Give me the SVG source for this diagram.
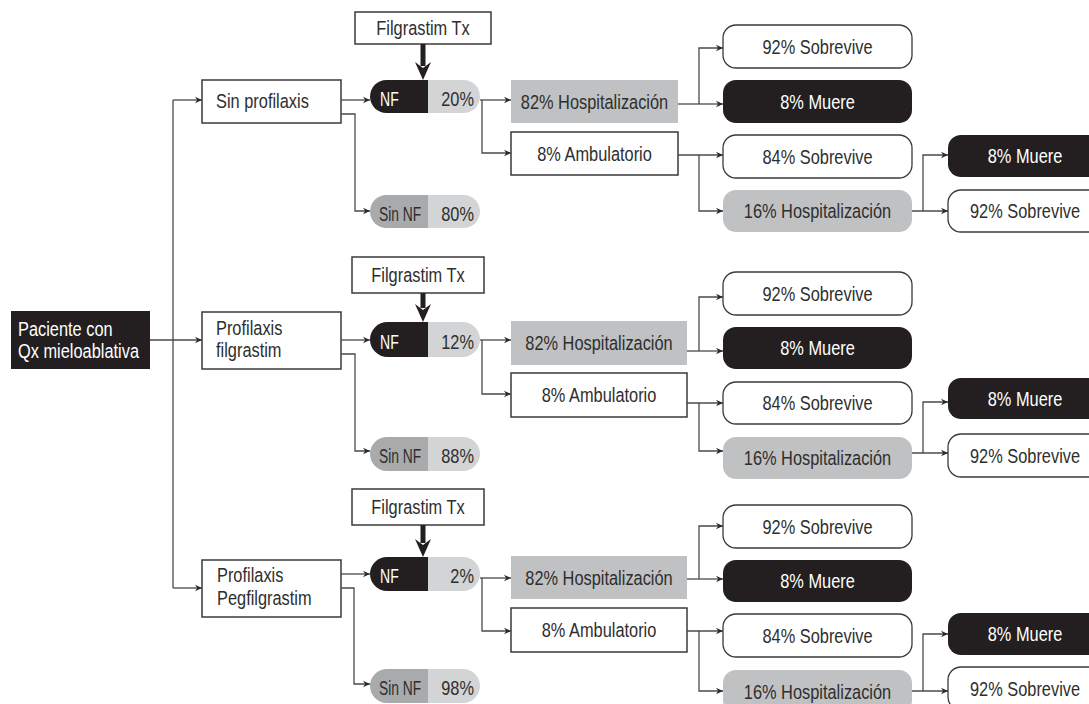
<svg xmlns="http://www.w3.org/2000/svg" width="1089" height="704" viewBox="0 0 1089 704">
<defs>
<marker id="ah" markerUnits="userSpaceOnUse" markerWidth="8" markerHeight="8" refX="7" refY="4" orient="auto">
<path d="M0,0.8 L7,4 L0,7.2 L2.2,4 Z" fill="#2b2b2b"/>
</marker>
<style>
text{font-family:"Liberation Sans",Arial,sans-serif;font-size:19.5px;fill:#2e2e2e}
.w{fill:#ffffff}
.c{text-anchor:middle}
.e{text-anchor:end}
.box{fill:#ffffff;stroke:#3a3a3a;stroke-width:1.5}
.blk{fill:#231f20}
.g1{fill:#c0c1c3}
.g2{fill:#a9aaac}
.g3{fill:#d3d4d6}
.rw{fill:#ffffff;stroke:#3a3a3a;stroke-width:1.3}
.ln{fill:none;stroke:#4a4a4a;stroke-width:1.3}
.ar{fill:none;stroke:#4a4a4a;stroke-width:1.3;marker-end:url(#ah)}
.tk{fill:none;stroke:#231f20;stroke-width:5}
.th{fill:#231f20}
</style>
</defs>

<!-- Root -->
<g id="paciente">
<rect class="blk" x="11" y="311" width="139" height="58"/>
<text class="w" transform="matrix(.84 0 0 1 18 336)">Paciente con</text>
<text class="w" transform="matrix(.84 0 0 1 18 358)">Qx mieloablativa</text>
</g>

<!-- Section 1 -->
<g id="sin-profilaxis"><rect class="box" x="202" y="80" width="139" height="43"/><text transform="matrix(.84 0 0 1 216 108)">Sin profilaxis</text></g>
<g id="filg-tx-1"><rect class="box" x="355" y="12" width="136" height="32"/><text class="c" transform="matrix(.84 0 0 1 423 35)">Filgrastim Tx</text></g>
<g id="nf-1"><path class="blk" d="M428,80 H386.5 A16.5,16.5 0 0 0 386.5,113 H428 Z"/><path class="g3" d="M428,80 H463.5 A16.5,16.5 0 0 1 463.5,113 H428 Z"/><text class="w" transform="matrix(.72 0 0 1 380 105.5)">NF</text><text class="e" transform="matrix(.84 0 0 1 474 105.5)">20%</text></g>
<g id="sinnf-1"><path class="g2" d="M428,195 H386.5 A16.5,16.5 0 0 0 386.5,228 H428 Z"/><path class="g3" d="M428,195 H463.5 A16.5,16.5 0 0 1 463.5,228 H428 Z"/><text transform="matrix(.71 0 0 1 379 220.5)">Sin NF</text><text class="e" transform="matrix(.84 0 0 1 474 220.5)">80%</text></g>
<g id="hosp82-1"><rect class="g1" x="511" y="80" width="167" height="43"/><text class="c" transform="matrix(.84 0 0 1 594.5 108.5)">82% Hospitalización</text></g>
<g id="amb-1"><rect class="box" x="511" y="132" width="167" height="43"/><text class="c" transform="matrix(.84 0 0 1 594.5 160.5)">8% Ambulatorio</text></g>
<g id="sob92-1"><rect class="rw" x="723" y="25" width="189" height="43" rx="13"/><text class="c" transform="matrix(.84 0 0 1 817.5 53.5)">92% Sobrevive</text></g>
<g id="muere8-1"><rect class="blk" x="723" y="80" width="189" height="43" rx="13"/><text class="c w" transform="matrix(.84 0 0 1 817.5 108.5)">8% Muere</text></g>
<g id="sob84-1"><rect class="rw" x="723" y="135" width="189" height="43" rx="13"/><text class="c" transform="matrix(.84 0 0 1 817.5 163.5)">84% Sobrevive</text></g>
<g id="hosp16-1"><rect class="g1" x="723" y="190" width="189" height="42" rx="13"/><text class="c" transform="matrix(.84 0 0 1 817.5 218)">16% Hospitalización</text></g>
<g id="muere8b-1"><rect class="blk" x="948" y="135" width="160" height="42" rx="13"/><text class="c w" transform="matrix(.84 0 0 1 1025 163)">8% Muere</text></g>
<g id="sob92b-1"><rect class="rw" x="948" y="190" width="160" height="42" rx="13"/><text class="c" transform="matrix(.84 0 0 1 1025 218)">92% Sobrevive</text></g>

<!-- Section 2 -->
<g id="prof-filg"><rect class="box" x="202" y="312" width="139" height="57"/><text transform="matrix(.84 0 0 1 216 335)">Profilaxis</text><text transform="matrix(.84 0 0 1 216 357)">filgrastim</text></g>
<g id="filg-tx-2"><rect class="box" x="352" y="257" width="132" height="36"/><text class="c" transform="matrix(.84 0 0 1 418 282)">Filgrastim Tx</text></g>
<g id="nf-2"><path class="blk" d="M428,322 H387.5 A17.5,17.5 0 0 0 387.5,357 H428 Z"/><path class="g3" d="M428,322 H462.5 A17.5,17.5 0 0 1 462.5,357 H428 Z"/><text class="w" transform="matrix(.72 0 0 1 380 348.5)">NF</text><text class="e" transform="matrix(.84 0 0 1 474 348.5)">12%</text></g>
<g id="sinnf-2"><path class="g2" d="M428,437 H387 A17,17 0 0 0 387,471 H428 Z"/><path class="g3" d="M428,437 H463 A17,17 0 0 1 463,471 H428 Z"/><text transform="matrix(.71 0 0 1 379 463)">Sin NF</text><text class="e" transform="matrix(.84 0 0 1 474 463)">88%</text></g>
<g id="hosp82-2"><rect class="g1" x="511" y="321" width="176" height="44"/><text class="c" transform="matrix(.84 0 0 1 599 350)">82% Hospitalización</text></g>
<g id="amb-2"><rect class="box" x="511" y="373" width="176" height="44"/><text class="c" transform="matrix(.84 0 0 1 599 402)">8% Ambulatorio</text></g>
<g id="sob92-2"><rect class="rw" x="723" y="272" width="189" height="43" rx="13"/><text class="c" transform="matrix(.84 0 0 1 817.5 300.5)">92% Sobrevive</text></g>
<g id="muere8-2"><rect class="blk" x="723" y="327" width="189" height="42" rx="13"/><text class="c w" transform="matrix(.84 0 0 1 817.5 355)">8% Muere</text></g>
<g id="sob84-2"><rect class="rw" x="723" y="382" width="189" height="42" rx="13"/><text class="c" transform="matrix(.84 0 0 1 817.5 410)">84% Sobrevive</text></g>
<g id="hosp16-2"><rect class="g1" x="723" y="437" width="189" height="42" rx="13"/><text class="c" transform="matrix(.84 0 0 1 817.5 465)">16% Hospitalización</text></g>
<g id="muere8b-2"><rect class="blk" x="948" y="378" width="160" height="41" rx="13"/><text class="c w" transform="matrix(.84 0 0 1 1025 405.5)">8% Muere</text></g>
<g id="sob92b-2"><rect class="rw" x="948" y="434" width="160" height="43" rx="13"/><text class="c" transform="matrix(.84 0 0 1 1025 462.5)">92% Sobrevive</text></g>

<!-- Section 3 -->
<g id="prof-peg"><rect class="box" x="202" y="560" width="139" height="57"/><text transform="matrix(.84 0 0 1 217 582)">Profilaxis</text><text transform="matrix(.84 0 0 1 217 605)">Pegfilgrastim</text></g>
<g id="filg-tx-3"><rect class="box" x="352" y="489" width="132" height="36"/><text class="c" transform="matrix(.84 0 0 1 418 514)">Filgrastim Tx</text></g>
<g id="nf-3"><path class="blk" d="M428,557 H387 A17,17 0 0 0 387,591 H428 Z"/><path class="g3" d="M428,557 H463 A17,17 0 0 1 463,591 H428 Z"/><text class="w" transform="matrix(.72 0 0 1 380 583)">NF</text><text class="e" transform="matrix(.84 0 0 1 474 583)">2%</text></g>
<g id="sinnf-3"><path class="g2" d="M428,669 H387 A17,17 0 0 0 387,703 H428 Z"/><path class="g3" d="M428,669 H463 A17,17 0 0 1 463,703 H428 Z"/><text transform="matrix(.71 0 0 1 379 695)">Sin NF</text><text class="e" transform="matrix(.84 0 0 1 474 695)">98%</text></g>
<g id="hosp82-3"><rect class="g1" x="511" y="556" width="176" height="43"/><text class="c" transform="matrix(.84 0 0 1 599 584.5)">82% Hospitalización</text></g>
<g id="amb-3"><rect class="box" x="511" y="608" width="176" height="44"/><text class="c" transform="matrix(.84 0 0 1 599 637)">8% Ambulatorio</text></g>
<g id="sob92-3"><rect class="rw" x="723" y="505" width="189" height="43" rx="13"/><text class="c" transform="matrix(.84 0 0 1 817.5 533.5)">92% Sobrevive</text></g>
<g id="muere8-3"><rect class="blk" x="723" y="560" width="189" height="42" rx="13"/><text class="c w" transform="matrix(.84 0 0 1 817.5 588)">8% Muere</text></g>
<g id="sob84-3"><rect class="rw" x="723" y="614" width="189" height="43" rx="13"/><text class="c" transform="matrix(.84 0 0 1 817.5 642.5)">84% Sobrevive</text></g>
<g id="hosp16-3"><rect class="g1" x="723" y="670" width="189" height="43" rx="13"/><text class="c" transform="matrix(.84 0 0 1 817.5 698.5)">16% Hospitalización</text></g>
<g id="muere8b-3"><rect class="blk" x="948" y="613" width="160" height="42" rx="13"/><text class="c w" transform="matrix(.84 0 0 1 1025 641)">8% Muere</text></g>
<g id="sob92b-3"><rect class="rw" x="948" y="667" width="160" height="43" rx="13"/><text class="c" transform="matrix(.84 0 0 1 1025 695.5)">92% Sobrevive</text></g>

<!-- Connectors -->
<g id="connectors">
<path class="ln" d="M173,100 V588"/>
<path class="ar" d="M173,100 H202"/>
<path class="ar" d="M150,340 H202"/>
<path class="ar" d="M173,588 H202"/>

<!-- section 1 -->
<path class="ar" d="M341,100 H370"/>
<path class="ar" d="M341,114 H355 V211 H370"/>
<path class="tk" d="M423,44 V66"/>
<path class="th" d="M415,62 L423,68 L431,62 L423,80 Z"/>
<path class="ar" d="M480,100 H511"/>
<path class="ar" d="M482,100 V153 H511"/>
<path class="ln" d="M678,104 H699"/>
<path class="ar" d="M699,104 V48 H723"/>
<path class="ar" d="M699,104 H723"/>
<path class="ar" d="M678,155 H723"/>
<path class="ar" d="M699,155 V211 H723"/>
<path class="ar" d="M912,211 H948"/>
<path class="ar" d="M923,211 V155 H948"/>

<!-- section 2 -->
<path class="ar" d="M341,340 H370"/>
<path class="ar" d="M341,354 H355 V451 H370"/>
<path class="tk" d="M423,293 V308"/>
<path class="th" d="M415,304 L423,310 L431,304 L423,322 Z"/>
<path class="ar" d="M480,340 H511"/>
<path class="ar" d="M482,340 V394 H511"/>
<path class="ln" d="M687,351 H699"/>
<path class="ar" d="M699,351 V297 H723"/>
<path class="ar" d="M699,351 H723"/>
<path class="ar" d="M687,403 H723"/>
<path class="ar" d="M699,403 V451 H723"/>
<path class="ar" d="M912,453 H948"/>
<path class="ar" d="M923,453 V402 H948"/>

<!-- section 3 -->
<path class="ar" d="M341,574 H370"/>
<path class="ar" d="M341,588 H354 V684 H370"/>
<path class="tk" d="M423,525 V543"/>
<path class="th" d="M415,539 L423,545 L431,539 L423,557 Z"/>
<path class="ar" d="M480,578 H511"/>
<path class="ar" d="M482,578 V631 H511"/>
<path class="ln" d="M687,579 H699"/>
<path class="ar" d="M699,579 V526 H723"/>
<path class="ar" d="M699,579 H723"/>
<path class="ar" d="M687,631 H723"/>
<path class="ar" d="M699,631 V691 H723"/>
<path class="ar" d="M912,691 H948"/>
<path class="ar" d="M923,691 V634 H948"/>
</g>
</svg>
